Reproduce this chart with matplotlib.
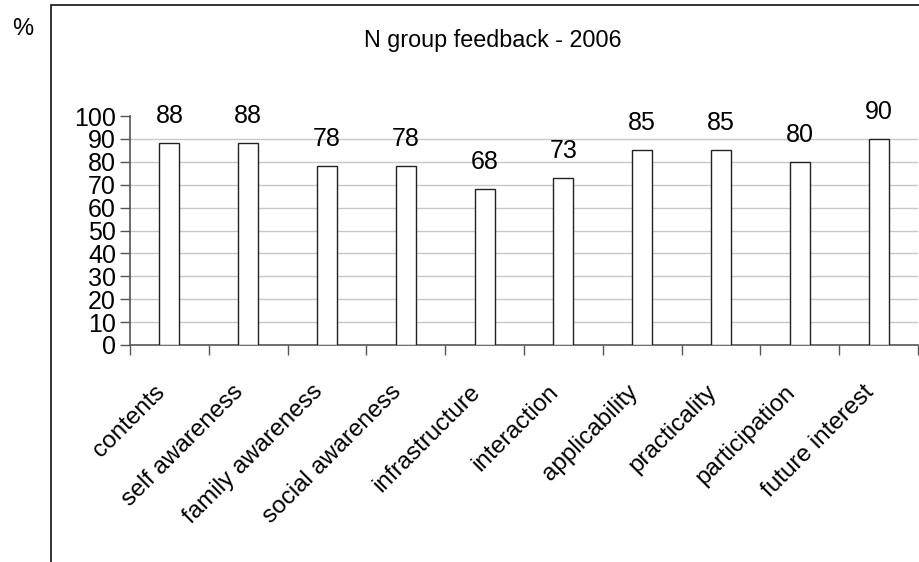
import matplotlib
matplotlib.use('agg')
import matplotlib.pyplot as plt
from matplotlib.patches import Rectangle
from matplotlib import font_manager

plt.rcParams['font.family'] = ['Liberation Sans', 'DejaVu Sans']

names = sorted({f.name for f in font_manager.fontManager.ttflist})
narrow = 'Liberation Sans Narrow' if 'Liberation Sans Narrow' in names else 'Liberation Sans'

categories = ['contents', 'self awareness', 'family awareness', 'social awareness',
              'infrastructure', 'interaction', 'applicability', 'practicality',
              'participation', 'future interest']
values = [88, 88, 78, 78, 68, 73, 85, 85, 80, 90]
y_ticks = [0, 10, 20, 30, 40, 50, 60, 70, 80, 90, 100]

W, H = 920, 562
fig = plt.figure(figsize=(W / 100, H / 100), dpi=100)

# outer chart frame (left and top edges visible)
fig.patches.append(Rectangle((51 / W, -0.1), 1.0, 1.1 - 5 / H, transform=fig.transFigure,
                             fill=False, edgecolor='#111111', linewidth=1.2))

ax = fig.add_axes([130 / W, 1 - 345 / H, (918 - 130) / W, (345 - 116) / H])

x = list(range(len(categories)))
ax.bar(x, values, width=0.255, color='white', edgecolor='#222222', linewidth=1.0, zorder=3)

for xi, v in zip(x, values):
    ax.annotate(str(v), (xi, v), xytext=(0, 11), textcoords='offset points',
                ha='center', va='bottom', fontsize=18, family=narrow)

ax.set_xlim(-0.5, len(categories) - 0.5)
ax.set_ylim(0, 100)
ax.set_yticks(y_ticks)
ax.set_yticklabels([str(t) for t in y_ticks], fontsize=18, family=narrow)
ax.tick_params(axis='y', length=7, width=1, color='#555555', pad=3)

# ticks at category boundaries, labels at centers
ax.set_xticks([i - 0.5 for i in range(len(categories) + 1)])
ax.set_xticklabels([])
ax.tick_params(axis='x', length=7, width=1, color='#555555')
for xi, name in zip(x, categories):
    ax.text(xi - 0.1, -0.19, name, transform=ax.get_xaxis_transform(),
            rotation=45, rotation_mode='anchor', ha='right', va='center', fontsize=17.5)

for t in y_ticks[1:-1]:
    ax.axhline(t, color='#c8c8c8', linewidth=1, zorder=1)

for s in ['top', 'right']:
    ax.spines[s].set_visible(False)
for s in ['left', 'bottom']:
    ax.spines[s].set_color('#555555')
    ax.spines[s].set_linewidth(1.2)

fig.text(493 / W, 1 - 40 / H, 'N group feedback - 2006', ha='center', va='center', fontsize=16.8)
fig.text(23 / W, 1 - 29 / H, '%', ha='center', va='center', fontsize=17)

fig.savefig('out.png', dpi=100)
